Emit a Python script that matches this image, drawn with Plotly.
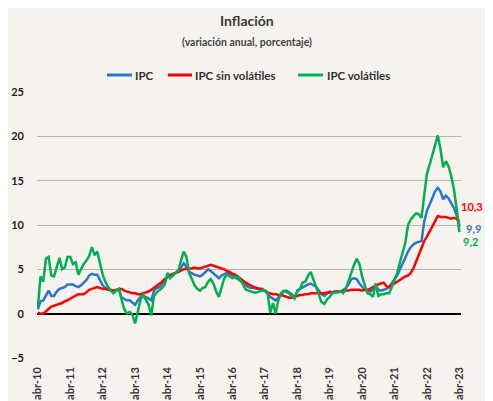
import plotly.graph_objects as go

years = ["10", "11", "12", "13", "14", "15", "16", "17", "18", "19", "20", "21", "22", "23"]
tick_labels = ["abr-" + y for y in years]

ipc = [
    0.5, 1.4, 1.5, 2.1, 2.6, 2.0, 2.0, 2.5, 2.8, 2.9, 3.0, 3.3,
    3.3, 3.3, 3.1, 3.0, 3.2, 3.5, 3.8, 4.3, 4.5, 4.4, 4.4, 3.8,
    3.2, 2.9, 2.7, 2.6, 2.6, 2.7, 2.8, 1.8, 1.6, 1.5, 1.5, 1.2,
    1.0, 1.5, 1.9, 2.0, 1.9, 1.7, 1.5, 2.6, 2.9, 3.0, 3.3, 3.7,
    4.3, 4.4, 4.5, 4.6, 4.9, 5.2, 5.7, 5.3, 4.7, 4.5, 4.4, 4.3,
    4.2, 4.4, 4.7, 5.0, 4.8, 4.5, 4.3, 4.0, 4.3, 4.5, 4.6, 4.5,
    4.3, 4.2, 4.0, 3.8, 3.5, 3.2, 3.0, 2.9, 2.9, 2.8, 2.8, 2.8,
    2.6, 2.2, 1.9, 1.7, 1.5, 1.8, 2.2, 2.5, 2.6, 2.4, 2.2, 1.8,
    2.6, 2.8, 3.0, 3.1, 3.3, 3.4, 3.2, 3.0, 2.6, 2.2, 2.0, 2.3,
    2.5, 2.4, 2.5, 2.5, 2.5, 2.7, 2.9, 3.3, 3.9, 4.0, 3.9, 3.4,
    3.0, 2.7, 2.6, 2.5, 2.7, 3.2, 2.7, 2.6, 2.7, 2.8, 3.0, 3.4,
    3.8, 4.3, 5.0, 5.6, 6.3, 7.0, 7.5, 7.8, 8.0, 8.1, 8.2, 10.4,
    11.6, 12.3, 13.1, 13.8, 14.2, 13.8, 12.9, 13.3, 13.0, 12.5, 11.9, 11.1,
    9.9,
]

ipc_sin_volatiles = [
    0.1, 0.0, 0.0, 0.3, 0.6, 0.8, 0.9, 1.0, 1.1, 1.2, 1.4, 1.5,
    1.7, 1.9, 2.1, 2.2, 2.2, 2.2, 2.4, 2.7, 2.8, 2.9, 3.0, 2.9,
    2.8, 2.8, 2.7, 2.7, 2.6, 2.6, 2.7, 2.8, 2.6, 2.5, 2.4, 2.3,
    2.3, 2.2, 2.2, 2.3, 2.4, 2.5, 2.7, 2.9, 3.1, 3.3, 3.6, 3.9,
    4.1, 4.3, 4.5, 4.6, 4.7, 4.9, 5.0, 5.1, 5.1, 5.1, 5.2, 5.1,
    5.1, 5.2, 5.3, 5.4, 5.5, 5.4, 5.3, 5.2, 5.1, 5.0, 4.8, 4.7,
    4.5, 4.4, 4.2, 4.0, 3.8, 3.5, 3.3, 3.1, 3.0, 2.9, 2.8, 2.7,
    2.6, 2.4, 2.3, 2.2, 2.2, 2.1, 2.1, 2.0, 1.9, 1.8, 1.8, 1.9,
    2.0, 2.1, 2.1, 2.2, 2.2, 2.3, 2.3, 2.3, 2.3, 2.3, 2.3, 2.4,
    2.4, 2.4, 2.5, 2.5, 2.5, 2.5, 2.6, 2.6, 2.7, 2.7, 2.7, 2.7,
    2.6, 2.7, 2.7, 2.8, 3.0, 3.2, 3.3, 3.4, 3.5, 3.1, 3.0, 3.2,
    3.4, 3.6, 3.9, 4.0, 4.2, 4.3, 4.6, 5.1, 5.9, 6.8, 7.6, 8.2,
    8.7, 9.3, 9.9, 10.5, 11.0, 10.9, 10.9, 10.9, 10.8, 10.7, 10.8, 10.7,
    10.4,
]

ipc_volatiles = [
    0.6, 4.2, 3.6, 6.2, 6.4, 4.3, 4.2, 5.2, 6.3, 5.0, 5.2, 6.4,
    6.4, 5.6, 5.8, 4.4, 5.0, 5.6, 6.0, 6.5, 7.5, 6.6, 7.0, 5.7,
    4.4, 3.6, 3.0, 2.6, 2.3, 2.6, 2.8, 1.6, 0.5, 0.0, 0.2, -0.1,
    -1.1, 0.2, 1.6, 2.1, 1.6, 1.0, -0.2, 2.0, 2.4, 2.6, 2.9, 3.3,
    4.6, 4.0, 4.3, 4.6, 4.9, 6.0, 7.0, 6.4, 4.6, 3.9, 3.2, 2.8,
    2.6, 2.9, 3.0, 3.6, 3.9, 3.4, 2.5, 1.9, 3.0, 4.0, 4.4, 4.2,
    4.0, 4.1, 4.2, 3.8, 3.2, 2.7, 2.6, 2.5, 2.4, 2.4, 2.5, 2.6,
    2.6, 2.4, 0.1, 1.2, 0.0, 1.5, 2.3, 2.6, 2.5, 2.3, 2.0, 1.7,
    2.5, 2.8, 3.5, 3.6, 4.3, 4.7, 3.8, 2.9, 2.0, 1.3, 1.1, 1.6,
    1.9, 2.3, 2.4, 2.4, 2.5, 2.3, 2.8, 3.6, 4.6, 5.5, 6.2, 5.6,
    4.2, 3.2, 2.3, 2.2, 1.9, 3.4, 2.0, 2.2, 2.2, 2.3, 2.3, 3.0,
    3.8, 4.6, 5.8, 7.0, 8.0, 10.0, 10.6, 11.0, 11.3, 11.2, 10.8, 13.4,
    15.8, 16.8, 18.0, 19.0, 20.1, 18.6, 16.5, 17.2, 16.6, 15.5, 14.0, 11.8,
    9.2,
]

last_labels = ["10,3", "9,9", "9,2"]
series_names = ["IPC", "IPC sin volátiles", "IPC volátiles"]
colors = ["#2E75C9", "#FF0000", "#00B050"]

months = list(range(len(ipc)))
tick_vals = list(range(0, len(ipc), 12))

FONT = "Lato, 'Open Sans', sans-serif"
BG = "#F6F3EF"

# figure is drawn inside the page with an 8px body margin
W, H = 485, 393
L, T, R, B = 29, 84, 32, 43
PW, PH = W - L - R, H - T - B


def px(wx):
    return (wx - 8 - L) / PW


def py(wy):
    return (H - B - (wy - 8)) / PH


fig = go.Figure()
for name, vals, col in zip(series_names, [ipc, ipc_sin_volatiles, ipc_volatiles], colors):
    fig.add_trace(go.Scatter(x=months, y=vals, mode="lines", name=name, showlegend=False,
                             line=dict(color=col, width=2.5), hoverinfo="skip"))

# title
fig.add_annotation(text="<b>Inflación</b>", xref="paper", yref="paper", x=px(247), y=py(20),
                   showarrow=False, xanchor="center", yanchor="middle",
                   font=dict(family=FONT, size=14, color="#3a3a3a"))
fig.add_annotation(text="<b>(variación anual, porcentaje)</b>", xref="paper", yref="paper",
                   x=px(247), y=py(42), showarrow=False, xanchor="center", yanchor="middle",
                   font=dict(family=FONT, size=10.5, color="#444444"))

# legend (manual)
leg_y = 75
leg_items = [(107, 132, 133), (168, 192, 193), (298, 323, 325)]
for (x0, x1, tx), name, col in zip(leg_items, series_names, colors):
    fig.add_shape(type="line", xref="paper", yref="paper", x0=px(x0), x1=px(x1),
                  y0=py(leg_y), y1=py(leg_y), line=dict(color=col, width=3))
    fig.add_annotation(text="<b>" + name + "</b>", xref="paper", yref="paper", x=px(tx), y=py(leg_y),
                       showarrow=False, xanchor="left", yanchor="middle",
                       font=dict(family=FONT, size=11.5, color="#333333"))

# end labels
label_y = [206, 228, 241]
label_xr = [484, 482, 479]
label_cols = ["#FF0000", "#2E75C9", "#00B050"]
for txt, yy, xx, c in zip(last_labels, label_y, label_xr, label_cols):
    fig.add_annotation(text="<b>" + txt + "</b>", xref="paper", yref="paper",
                       x=px(xx), y=py(yy), showarrow=False, borderpad=0,
                       font=dict(family=FONT, size=11, color=c),
                       xanchor="right", yanchor="middle")

fig.update_layout(
    width=W, height=H,
    paper_bgcolor=BG, plot_bgcolor=BG,
    margin=dict(l=L, r=R, t=T, b=B, autoexpand=False),
    showlegend=False,
    xaxis=dict(range=[-0.3, 156.6], tickmode="array", tickvals=tick_vals, ticktext=tick_labels,
               tickangle=-90, showgrid=False, zeroline=False, showline=False,
               automargin=False, ticks="", ticklabelstandoff=6,
               tickfont=dict(family=FONT, size=11, color="#333333", weight="bold")),
    yaxis=dict(range=[-5, 25], tickmode="array", tickvals=[-5, 0, 5, 10, 15, 20, 25],
               showgrid=True, gridcolor="#B5B5B5", gridwidth=1.3,
               zeroline=True, zerolinecolor="#000000", zerolinewidth=1.6,
               showline=False, automargin=False, ticks="", ticklabelstandoff=12,
               tickfont=dict(family=FONT, size=11, color="#222222", weight="bold")),
)

fig.write_html("out.html")
